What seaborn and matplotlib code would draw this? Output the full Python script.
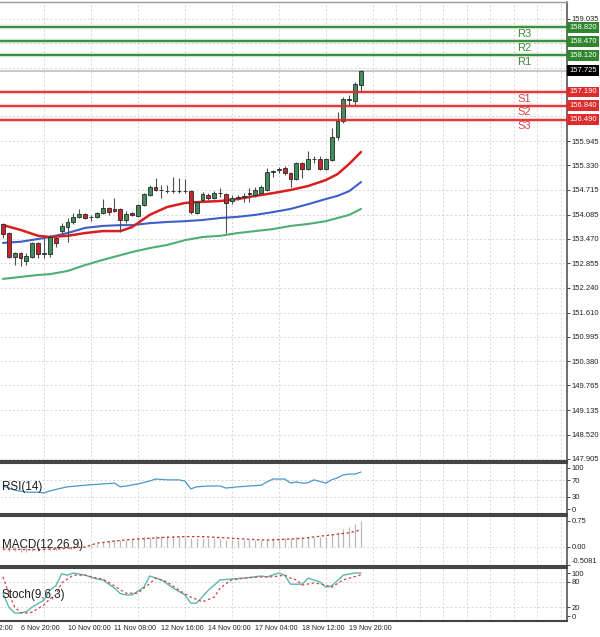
import matplotlib
matplotlib.use("Agg")
import matplotlib.pyplot as plt
import matplotlib.transforms as mtransforms
import seaborn as sns

# ==========================================
# DATA - H4 candles, bar 0 = left-most visible bar
# ==========================================
opens = [153.85, 153.62, 153.01, 153.12, 152.91, 153.01, 153.37, 153.09, 153.09, 153.50,
         153.68, 153.77, 153.90, 154.03, 154.10, 154.02, 154.03, 154.13, 154.25, 154.23,
         154.23, 153.95, 154.13, 154.05, 154.33, 154.58, 154.79, 154.71, 154.69, 154.68,
         154.69, 154.68, 154.68, 154.13, 154.46, 154.58, 154.51, 154.63, 154.61, 154.43,
         154.51, 154.53, 154.60, 154.58, 154.63, 154.71, 155.16, 155.22, 155.27, 155.14,
         154.99, 155.39, 155.24, 155.49, 155.49, 155.24, 155.47, 156.05, 156.45, 157.01,
         156.96, 157.37]
highs = [153.87, 153.65, 153.15, 153.14, 153.12, 153.40, 153.40, 153.50, 153.57, 153.52,
         153.88, 154.00, 154.13, 154.23, 154.13, 154.08, 154.16, 154.48, 154.28, 154.51,
         154.25, 154.18, 154.15, 154.36, 154.64, 154.84, 155.01, 154.84, 154.84, 155.04,
         155.01, 154.99, 154.71, 154.43, 154.66, 154.63, 154.68, 154.76, 154.64, 154.58,
         154.58, 154.63, 154.76, 154.79, 154.84, 155.27, 155.22, 155.30, 155.32, 155.16,
         155.42, 155.42, 155.70, 155.57, 155.57, 155.52, 156.28, 156.68, 157.05, 157.11,
         157.44, 157.75]
lows = [153.50, 152.98, 152.81, 152.79, 152.81, 152.98, 152.99, 152.99, 153.01, 153.27,
        153.60, 153.40, 153.85, 154.00, 153.98, 153.92, 154.00, 154.10, 154.08, 154.15,
        153.65, 153.88, 154.05, 154.03, 154.30, 154.56, 154.68, 154.51, 154.63, 154.63,
        154.63, 154.63, 154.10, 154.10, 154.41, 154.46, 154.48, 154.53, 153.62, 154.36,
        154.46, 154.41, 154.41, 154.53, 154.58, 154.68, 155.04, 155.14, 155.09, 154.79,
        154.96, 155.01, 155.21, 155.39, 155.21, 155.21, 155.44, 155.98, 156.40, 156.86,
        156.84, 157.22]
closes = [153.60, 153.01, 153.12, 152.99, 153.04, 153.37, 153.09, 153.12, 153.52, 153.37,
          153.80, 153.90, 154.03, 154.10, 154.00, 154.03, 154.13, 154.25, 154.15, 154.18,
          153.95, 154.10, 154.08, 154.33, 154.61, 154.79, 154.71, 154.70, 154.68, 154.69,
          154.68, 154.68, 154.15, 154.41, 154.61, 154.51, 154.63, 154.64, 154.38, 154.51,
          154.53, 154.55, 154.63, 154.71, 154.79, 155.16, 155.19, 155.24, 155.14, 154.99,
          155.39, 155.24, 155.49, 155.50, 155.24, 155.49, 156.05, 156.45, 157.01, 156.98,
          157.39, 157.72]
bar_idx = list(range(len(opens)))

ma_idx = [0, 3, 6, 8, 11, 14, 17, 20, 22, 25, 28, 31, 34, 37, 40, 43, 46, 49, 52, 55, 57, 59, 61]
ma_red = [153.82, 153.70, 153.55, 153.52, 153.55, 153.62, 153.67, 153.67, 153.77, 154.08, 154.28, 154.38,
          154.41, 154.43, 154.48, 154.56, 154.63, 154.71, 154.81, 154.96, 155.11, 155.37, 155.67]
ma_blue = [153.37, 153.40, 153.47, 153.52, 153.62, 153.75, 153.80, 153.82, 153.82, 153.87, 153.90, 153.92,
           153.95, 154.00, 154.03, 154.08, 154.15, 154.23, 154.35, 154.48, 154.56, 154.68, 154.91]
ma_green = [152.46, 152.51, 152.56, 152.58, 152.66, 152.81, 152.94, 153.06, 153.14, 153.24, 153.32, 153.44,
            153.52, 153.55, 153.62, 153.67, 153.72, 153.80, 153.85, 153.92, 154.00, 154.08, 154.23]

# pivot levels
level_names = ["R3", "R2", "R1", "S1", "S2", "S3"]
level_values = [158.820, 158.470, 158.120, 157.190, 156.840, 156.490]
last_price = 157.725

price_ticks = [159.035, 158.420, 157.805, 157.190, 156.575, 155.945, 155.330, 154.715, 154.085, 153.470,
               152.855, 152.240, 151.610, 150.995, 150.380, 149.765, 149.135, 148.520, 147.905]

time_idx = [3, 11, 19, 27, 35, 43, 51, 59]
time_labels = ["6 Nov 20:00", "10 Nov 00:00", "11 Nov 08:00", "12 Nov 16:00",
               "14 Nov 00:00", "17 Nov 04:00", "18 Nov 12:00", "19 Nov 20:00"]
cut_idx = -5
cut_label = "5 Nov 12:00"

# RSI(14)
rsi_idx = [0, 2, 4, 6, 7, 8, 10, 11, 14, 17, 19, 20, 21, 23, 25, 26, 28, 30, 31, 32, 33,
           35, 37, 38, 40, 42, 44, 45, 46, 48, 49, 50, 51, 52, 53, 55, 56, 57, 58, 59, 60, 61]
rsi_vals = [56, 46, 41, 41, 39, 44, 51, 54, 58, 61, 63, 54, 56, 61, 68, 73, 71, 71, 68, 49, 54,
            56, 56, 51, 54, 56, 58, 66, 73, 73, 63, 66, 63, 64, 71, 63, 71, 76, 83, 85, 85, 90]

# MACD(12,26,9)
macd_hist = [-0.10, -0.12, -0.13, -0.14, -0.14, -0.13, -0.12, -0.11, -0.09, -0.08,
             -0.06, -0.04, -0.02, 0.00, 0.03, 0.07, 0.10, 0.14, 0.17, 0.19,
             0.19, 0.20, 0.22, 0.25, 0.28, 0.30, 0.32, 0.32, 0.32, 0.32,
             0.31, 0.31, 0.27, 0.26, 0.26, 0.25, 0.25, 0.24, 0.21, 0.20,
             0.19, 0.19, 0.19, 0.19, 0.20, 0.23, 0.25, 0.26, 0.27, 0.25,
             0.28, 0.27, 0.29, 0.30, 0.29, 0.30, 0.37, 0.44, 0.53, 0.58,
             0.65, 0.74]
signal_idx = [0, 5, 10, 14, 16, 19, 22, 25, 28, 31, 34, 36, 39, 42, 45, 48, 51, 53, 56, 59, 61]
signal_vals = [-0.06, -0.08, -0.05, 0.00, 0.11, 0.17, 0.22, 0.25, 0.28, 0.30, 0.30,
               0.28, 0.25, 0.22, 0.20, 0.22, 0.25, 0.29, 0.35, 0.41, 0.49]

# Stoch(9,6,3)
k_idx = [0, 1, 2, 3, 4, 5, 7, 8, 9, 10, 11, 12, 14, 16, 17, 19, 20, 21, 22, 24, 25, 27,
         29, 31, 32, 33, 35, 37, 39, 41, 44, 45, 47, 48, 49, 51, 52, 54, 55, 56, 58, 60, 61]
k_vals = [53, 21, 7, 7, 10, 21, 37, 60, 70, 98, 95, 100, 95, 86, 84, 65, 52, 49, 49, 67, 93, 84,
          65, 49, 30, 30, 60, 84, 86, 88, 93, 91, 100, 95, 74, 74, 88, 79, 67, 70, 95, 100, 100]
d_idx = [0, 1, 2, 3, 4, 5, 7, 8, 9, 10, 12, 14, 16, 17, 19, 21, 23, 24, 25, 26, 28,
         30, 32, 34, 36, 37, 38, 39, 41, 44, 46, 48, 49, 50, 51, 53, 55, 56, 58, 60, 61]
d_vals = [91, 53, 21, 8, 7, 9, 26, 40, 49, 77, 95, 95, 88, 86, 70, 53, 53, 65, 75, 88, 79,
          60, 44, 33, 44, 65, 75, 84, 88, 91, 91, 95, 88, 84, 72, 77, 72, 67, 84, 92, 96]

# ==========================================
# STYLE
# ==========================================
sns.set_theme(style="white")
plt.rcParams["font.family"] = ["Liberation Sans", "DejaVu Sans"]

GRID = dict(color="#d2d2d2", linestyle=(0, (2.5, 2.5)), linewidth=0.6)
SPINE = "#454545"
TICK_FS = 5.5

fig = plt.figure(figsize=(6, 6.37), dpi=100)
W = 0.945
ax = fig.add_axes([0, 0.2763, W, 0.7206])
ax_rsi = fig.add_axes([0, 0.1931, W, 0.0801], sharex=ax)
ax_macd = fig.add_axes([0, 0.1115, W, 0.0785], sharex=ax)
ax_st = fig.add_axes([0, 0.0251, W, 0.0832], sharex=ax)

grid_idx = list(range(3, 97, 4))

for a in [ax, ax_rsi, ax_macd, ax_st]:
    a.set_facecolor("white")
    a.yaxis.tick_right()
    a.set_xticks(time_idx)
    a.set_xticks(grid_idx, minor=True)
    a.grid(False)
    a.grid(True, which="minor", axis="x", **GRID)
    a.tick_params(axis="y", which="major", length=2.2, width=0.7, pad=1.2,
                  labelsize=TICK_FS, color=SPINE, labelcolor="#222222", right=True, left=False)
    a.tick_params(axis="x", which="both", length=0, labelbottom=False)
    a.spines["left"].set_visible(False)
    for s in ["top", "bottom"]:
        a.spines[s].set_color(SPINE)
        a.spines[s].set_linewidth(1.5)
    a.spines["right"].set_color(SPINE)
    a.spines["right"].set_linewidth(1.1)
    a.set_xlabel("")
    a.set_ylabel("")

ax.set_xlim(-0.5, 96.1)

# ==========================================
# MAIN PRICE PANEL
# ==========================================
ax.set_ylim(147.854, 159.465)
ax.set_yticks(price_ticks)
ax.set_yticklabels([f"{v:.3f}" for v in price_ticks])
ax.grid(True, which="major", axis="y", **GRID)
ax.spines["top"].set_color("#9a9a9a")
ax.spines["top"].set_linewidth(1.0)

bull = "#3f8f5c"
bear = "#c9232b"
body_colors = [bull if c >= o else bear for o, c in zip(opens, closes)]
ax.vlines(bar_idx, lows, highs, color="#505050", linewidth=0.8, zorder=3)
ax.bar(bar_idx, [c - o for o, c in zip(opens, closes)], bottom=opens, width=0.66,
       color=body_colors, edgecolor="#2a2a2a", linewidth=0.6, zorder=4)

sns.lineplot(x=ma_idx, y=ma_green, ax=ax, color="#4fae72", linewidth=1.5, zorder=2)
sns.lineplot(x=ma_idx, y=ma_blue, ax=ax, color="#3d5fc8", linewidth=1.5, zorder=2)
sns.lineplot(x=ma_idx, y=ma_red, ax=ax, color="#d91f1f", linewidth=1.8, zorder=2)

trans = mtransforms.blended_transform_factory(ax.transAxes, ax.transData)

ax.axhline(last_price, color="#c8c8c8", linewidth=1.4, zorder=1)
for name, val in zip(level_names, level_values):
    col = "#2f862f" if name.startswith("R") else "#de2b2b"
    txt_col = "#3a8a3a" if name.startswith("R") else "#d84545"
    ax.axhline(val, color=col, linewidth=3.2, alpha=0.22, zorder=5)
    ax.axhline(val, color=col, linewidth=1.3, zorder=5)
    ax.text(0.912, val, name, transform=mtransforms.offset_copy(trans, fig=fig, y=-1.2, units="points"),
            ha="left", va="top", fontsize=8, color=txt_col, zorder=6)
    ax.text(1.004, val, f"{val:.3f}", transform=trans, ha="left", va="center", fontsize=TICK_FS,
            color="white", zorder=7, clip_on=False,
            bbox=dict(boxstyle="square,pad=0.25", fc=col, ec="none"))
ax.text(1.004, last_price, f"{last_price:.3f}", transform=trans, ha="left", va="center",
        fontsize=TICK_FS, color="white", zorder=7, clip_on=False,
        bbox=dict(boxstyle="square,pad=0.25", fc="black", ec="none"))

# ==========================================
# RSI PANEL
# ==========================================
ax_rsi.set_ylim(-12, 112)
ax_rsi.set_yticks([100, 70, 30, 0])
ax_rsi.set_yticklabels(["100", "70", "30", "0"])
for lvl in [70, 30]:
    ax_rsi.axhline(lvl, zorder=0, **GRID)
sns.lineplot(x=rsi_idx, y=rsi_vals, ax=ax_rsi, color="#4a97c9", linewidth=0.9)
ax_rsi.text(0.0035, 0.53, "RSI(14)", transform=ax_rsi.transAxes, va="center", ha="left",
            fontsize=8.4, color="#1e1e1e")

# ==========================================
# MACD PANEL
# ==========================================
ax_macd.set_ylim(-0.548, 0.894)
ax_macd.set_yticks([0.75, 0.0, -0.5081])
ax_macd.set_yticklabels(["0.75", "0.00", "-0.5081"])
ax_macd.get_yticklabels()[-1].set_va("bottom")
ax_macd.axhline(0, zorder=0, **GRID)
ax_macd.vlines(bar_idx, 0, macd_hist, color="#b9b9b9", linewidth=0.9, zorder=2)
sns.lineplot(x=signal_idx, y=signal_vals, ax=ax_macd, color="#c0392b", linewidth=0.9,
             linestyle=(0, (2, 2)), zorder=3)
ax_macd.text(0.0035, 0.42, "MACD(12,26,9)", transform=ax_macd.transAxes, va="center", ha="left",
             fontsize=8.4, color="#1e1e1e")

# ==========================================
# STOCHASTIC PANEL
# ==========================================
ax_st.set_ylim(-11.6, 111.6)
ax_st.set_yticks([100, 80, 20, 0])
ax_st.set_yticklabels(["100", "80", "20", "0"])
for lvl in [80, 20]:
    ax_st.axhline(lvl, zorder=0, **GRID)
sns.lineplot(x=k_idx, y=k_vals, ax=ax_st, color="#5bb8ae", linewidth=1.0, zorder=3)
sns.lineplot(x=d_idx, y=d_vals, ax=ax_st, color="#d04545", linewidth=0.9,
             linestyle=(0, (2, 2)), zorder=3)
ax_st.text(0.0035, 0.49, "Stoch(9,6,3)", transform=ax_st.transAxes, va="center", ha="left",
           fontsize=8.4, color="#1e1e1e")

ax_st.tick_params(axis="x", which="major", length=2.2, width=0.7, color=SPINE, pad=1.0,
                  labelbottom=True, labelsize=5.1, labelcolor="#222222")
ax_st.set_xticklabels(time_labels, ha="left")
# label of the previous tick, cut off by the left edge
st_trans = mtransforms.blended_transform_factory(ax_st.transData, ax_st.transAxes)
ax_st.text(cut_idx, 0, cut_label, transform=mtransforms.offset_copy(st_trans, fig=fig, y=-3.2, units="points"),
           ha="left", va="top", fontsize=5.1, color="#222222", clip_on=False)

fig.savefig("out.png", dpi=100)
plt.close(fig)
